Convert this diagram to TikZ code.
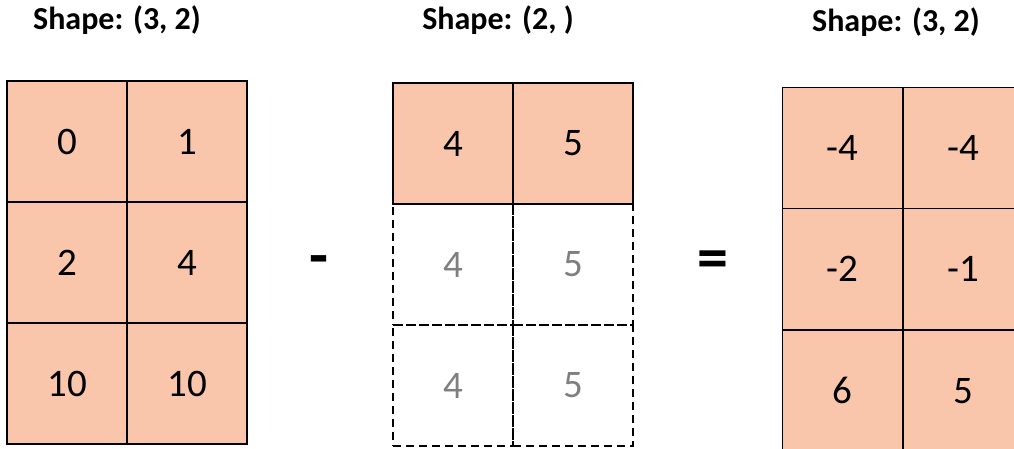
\documentclass[tikz,border=0pt]{standalone}
\usepackage{fontspec}
\setmainfont{Carlito}
\usetikzlibrary{positioning}
\definecolor{cellfill}{HTML}{F9C6AC}
\definecolor{ghost}{HTML}{7F7F7F}

\begin{document}
\begin{tikzpicture}[
    x=1pt, y=-1pt,
    cell/.style={draw, fill=cellfill, line width=1.2pt, minimum width=120pt, minimum height=121pt, inner sep=0pt, font=\fontsize{39}{46}\selectfont},
    ghostcell/.style={draw, dash pattern=on 8pt off 5pt, line width=1.5pt, minimum width=120pt, minimum height=121pt, inner sep=0pt, text=ghost, font=\fontsize{39}{46}\selectfont},
    title/.style={font=\bfseries\fontsize{32}{38}\selectfont},
    op/.style={font=\bfseries\fontsize{62}{70}\selectfont}
]
\useasboundingbox (0,0) rectangle (1014,448);
\clip (0,0) rectangle (1014,448);

% --- Titles ---
\node[title] (ta) at (117,20) {Shape: (3, 2)};
\node[title] (tb) at (498,20) {Shape: (2, )};
\node[title] (tc) at (896,22) {Shape: (3, 2)};

% --- Left array (3 x 2) ---
\foreach \v [count=\k from 0] in {0,1,2,4,10,10}
{
    \pgfmathtruncatemacro{\r}{div(\k,2)+1}
    \pgfmathtruncatemacro{\c}{mod(\k,2)+1}
    \node[cell] (a\r\c) at ({7+60+(\c-1)*120},{81+60.5+(\r-1)*121}) {\v};
}

% --- Middle array (2,) and its broadcast rows ---
\node[cell] (b11) at (453,143.5) {4};
\node[cell] (b12) at (573,143.5) {5};
\foreach \r in {2,3}
{
    \node[ghostcell] (b\r1) at (453,{143.5+(\r-1)*121}) {4};
    \node[ghostcell] (b\r2) at (573,{143.5+(\r-1)*121}) {5};
}

% --- Right array (3 x 2) ---
\foreach \v [count=\k from 0] in {-4,-4,-2,-1,6,5}
{
    \pgfmathtruncatemacro{\r}{div(\k,2)+1}
    \pgfmathtruncatemacro{\c}{mod(\k,2)+1}
    \node[cell] (c\r\c) at ({782+60.5+(\c-1)*121},{87+60.75+(\r-1)*121.5}) {\v};
}

% --- Operators ---
\node[op] (minus) at (319,266) {-};
\node[op] (equals) at (713,265) {=};

\end{tikzpicture}
\end{document}
